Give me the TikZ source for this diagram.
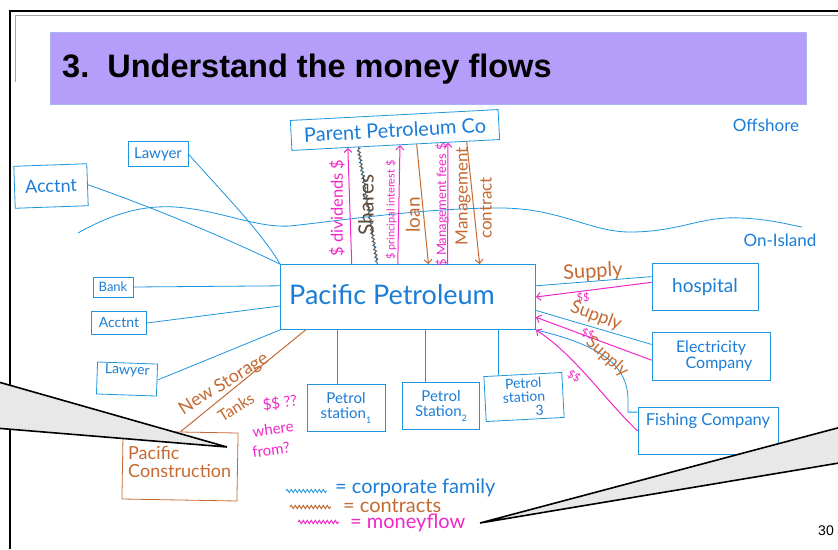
\documentclass[tikz,border=0pt]{standalone}
\usepackage{fontspec}
\setmainfont{Liberation Sans}
\newfontfamily\hand{Lato}
\usetikzlibrary{arrows.meta,decorations.pathmorphing,calc}

\definecolor{hblue}{RGB}{30,150,222}
\definecolor{hink}{RGB}{28,125,215}
\definecolor{hbrown}{RGB}{196,106,50}
\definecolor{hpink}{RGB}{240,40,200}
\definecolor{sharesink}{RGB}{95,75,60}
\definecolor{banner}{RGB}{180,158,250}
\definecolor{bannerline}{RGB}{170,180,245}
\definecolor{calloutfill}{RGB}{232,232,232}

\newcommand{\hs}[1]{\hand\fontsize{#1}{#1}\selectfont}

\begin{document}
\begin{tikzpicture}[x=1pt,y=-1pt,
  box/.style={draw=hblue, line width=0.8pt, rectangle, inner sep=0pt, text=hink, align=center},
  cbox/.style={box, draw=hbrown, text=hbrown},
  family/.style={draw=hblue, line width=0.8pt},
  contract/.style={draw=hbrown, line width=1pt},
  money/.style={draw=hpink, line width=1pt},
  tip/.style={-{Straight Barb[length=4pt,width=8pt]}},
  lbl/.style={inner sep=0pt},
  squig/.style={decorate, decoration={snake, amplitude=1.6pt, segment length=4pt}},
]
\useasboundingbox (0,0) rectangle (838,549);
\fill[white] (0,0) rectangle (838,549);

% slide frame
\draw[black, line width=2pt] (10,549) -- (10,11) -- (838,11);
\draw[black!35, line width=1pt] (15,82) -- (15,15.5) -- (838,15.5);

% title banner
\node[anchor=north west, minimum width=756, minimum height=72, fill=banner, draw=bannerline, line width=0.6pt, inner sep=0pt] (banner) at (50,32) {};
\node[anchor=west, lbl, font=\bfseries\fontsize{32.5}{36}\selectfont] (title) at (62,69) {3.\ \ Understand the money flows};

% offshore / on-island boundary
\draw[family] (78,233) .. controls (110,215) and (140,205) .. (175,207)
  .. controls (220,210) and (255,228) .. (290,226)
  .. controls (330,222) and (420,208) .. (500,208)
  .. controls (560,208) and (590,232) .. (630,232)
  .. controls (680,232) and (700,216) .. (740,218)
  .. controls (770,219) and (790,225) .. (802,227);
\node[lbl, text=hink, font=\hs{17}] (offshore) at (766,125) {Offshore};
\node[lbl, text=hink, font=\hs{17}] (onisland) at (780,240) {On-Island};

% companies and advisers
\node[box, minimum width=208, minimum height=30, rotate=3, font=\hs{20}] (parent) at (395,130) {Parent Petroleum Co};
\node[box, minimum width=255, minimum height=65] (pacpet) at (408,297) {};
\node[lbl, text=hink, font=\hs{27}] (pacpettext) at (392,295) {Pacific Petroleum};

\node[box, minimum width=60, minimum height=25, font=\hs{15}] (lawyerA) at (158,154) {Lawyer};
\node[box, minimum width=73, minimum height=42, rotate=2, font=\hs{18}] (acctA) at (51,186) {Acctnt};
\node[box, minimum width=40, minimum height=20, font=\hs{13}] (bank) at (113,287) {Bank};
\node[box, minimum width=55, minimum height=23, font=\hs{14}] (acctB) at (119,323) {Acctnt};
\node[box, minimum width=60, minimum height=32, rotate=-2, font=\hs{14}] (lawyerB) at (127,379) {Lawyer\\[5pt]};

\node[box, minimum width=106, minimum height=47, font=\hs{19}] (hospital) at (705,287) {hospital};
\node[box, minimum width=118, minimum height=48, font=\hs{16}] (elec) at (711,356) {Electricity\\\hspace*{16pt}Company};
\node[box, minimum width=140, minimum height=47, font=\hs{16.5}] (fish) at (708,431) {Fishing Company\\[6pt]};

\node[box, minimum width=78, minimum height=47, font=\hs{15}] (ps1) at (346,408) {Petrol\\station\raisebox{-5pt}{\hs{9}1}};
\node[box, minimum width=77, minimum height=47, font=\hs{15}] (ps2) at (441,406) {Petrol\\Station\raisebox{-5pt}{\hs{9}2}};
\node[box, minimum width=78, minimum height=45, rotate=3, font=\hs{14}] (ps3) at (524,397) {Petrol\\station\\\hspace*{30pt}3};

\node[cbox, minimum width=115, minimum height=68, rotate=-1] (pacc) at (180,466) {};
\node[lbl, anchor=north west, text=hbrown, align=left, font=\hs{18}] (pacctext) at (128,446) {Pacific\\Construction};

% advisers and stations (corporate family)
\draw[family] (lawyerA.east) .. controls (220,190) and (260,230) .. (pacpet.north west);
\draw[family] (acctA.east) .. controls (160,210) and (230,240) .. (pacpet.north west);
\draw[family] (bank.east) -- (pacpet.175);
\draw[family] (acctB.east) -- (pacpet.184);
\draw[family] (lawyerB.east) -- (pacpet.south west);
\draw[family] (pacpet.south -| ps1.110) -- (ps1.110);
\draw[family] (pacpet.south -| ps2.123) -- (ps2.123);
\draw[family] (pacpet.south -| ps3.137) -- (ps3.137);

% flows between parent and subsidiary
\draw[money, tip] ($(pacpet.north west)!0.28!(pacpet.north east)$) -- ($(parent.south west)!0.27!(parent.south east)$);
\draw[family] ($(parent.south west)!0.32!(parent.south east)$) -- ($(pacpet.north west)!0.38!(pacpet.north east)$);
\draw[sharesink, line width=0.6pt, squig] ($(parent.south west)!0.32!(parent.south east)$) -- ($(pacpet.north west)!0.38!(pacpet.north east)$);
\draw[money, tip] ($(pacpet.north west)!0.46!(pacpet.north east)$) -- ($(parent.south west)!0.52!(parent.south east)$);
\draw[contract, tip] ($(parent.south west)!0.60!(parent.south east)$) -- ($(pacpet.north west)!0.58!(pacpet.north east)$);
\draw[money, tip] ($(pacpet.north west)!0.655!(pacpet.north east)$) -- ($(parent.south west)!0.75!(parent.south east)$);
\draw[contract, tip] ($(parent.south west)!0.84!(parent.south east)$) -- ($(pacpet.north west)!0.78!(pacpet.north east)$);

\node[lbl, text=hpink, rotate=90, font=\hs{16.5}] (ldiv) at (337,208) {\$ dividends \$};
\node[lbl, text=sharesink, rotate=90, font=\hs{21}] (lshares) at (366,205) {Shares};
\node[lbl, text=hpink, rotate=90, font=\hs{11}] (lprin) at (391,210) {\$ principal interest \$};
\node[lbl, text=hbrown, rotate=90, font=\hs{19}] (lloan) at (413,215) {loan};
\node[lbl, text=hpink, rotate=90, font=\hs{13}] (lfees) at (442,205) {\$ Management fees \$};
\node[lbl, text=hbrown, rotate=90, font=\hs{17}] (lmgmt) at (463,196) {Management};
\node[lbl, text=hbrown, rotate=90, font=\hs{17}] (lcontr) at (486,208) {contract};

% suppliers
\draw[family] (pacpet.5) -- (hospital.169);
\draw[money, tip] (hospital.175) -- (pacpet.0);
\node[lbl, text=hbrown, font=\hs{20}, rotate=3] (sup1) at (593,272) {Supply};
\node[lbl, text=hpink, font=\hs{11}] (d1) at (583,298) {\$\$};

\draw[family] (pacpet.354) -- (elec.169);
\draw[money, tip] (elec.184) -- (pacpet.351);
\node[lbl, text=hbrown, font=\hs{18}, rotate=-21] (sup2) at (596,316) {Supply};
\node[lbl, text=hpink, font=\hs{11}, rotate=-20] (d2) at (588,334) {\$\$};

\draw[family] (pacpet.south east) .. controls (600,345) and (628,365) .. (628,400) |- (fish.165);
\draw[money, tip] (fish.west) .. controls (605,400) and (575,355) .. (pacpet.south east);
\node[lbl, text=hbrown, font=\hs{17}, rotate=-42] (sup3) at (607,357) {Supply};
\node[lbl, text=hpink, font=\hs{11}, rotate=-30] (d3) at (574,376) {\$\$};

% new storage tanks contract
\draw[contract] ($(pacpet.south west)!0.1!(pacpet.south east)$) -- (pacc.north);
\node[lbl, text=hbrown, font=\hs{18}, rotate=32] (lstore) at (224,384) {New Storage};
\node[lbl, text=hbrown, font=\hs{16}, rotate=32] (ltanks) at (236,407) {Tanks};
\node[lbl, text=hpink, font=\hs{15}, rotate=8] (lq1) at (280,403) {\$\$ ??};
\node[lbl, text=hpink, font=\hs{15}, rotate=8] (lq2) at (273,429) {where};
\node[lbl, text=hpink, font=\hs{15}, rotate=8] (lq3) at (271,450) {from?};

% legend
\coordinate (k1a) at (286,491); \coordinate (k1b) at (327,491);
\coordinate (k2a) at (290,507); \coordinate (k2b) at (331,507);
\coordinate (k3a) at (298,522); \coordinate (k3b) at (339,522);
\draw[hblue, line width=0.8pt, squig] (k1a) -- (k1b);
\draw[hbrown, line width=1pt, squig] (k2a) -- (k2b);
\draw[hpink, line width=1pt, squig] (k3a) -- (k3b);
\node[lbl, anchor=west, text=hink, font=\hs{20}] (key1) at (335,488) {= corporate family};
\node[lbl, anchor=west, text=hbrown, font=\hs{20}] (key2) at (343,506) {= contracts};
\node[lbl, anchor=west, text=hpink, font=\hs{20}] (key3) at (350,523) {= moneyflow};

% callouts
\fill[calloutfill] (-5,381) -- (227,447) -- (-5,428) -- cycle;
\draw[black, line width=1.6pt] (-5,381) -- (227,447) -- (-5,428);
\fill[calloutfill] (480,523) -- (845,426) -- (845,462) -- cycle;
\draw[black, line width=1.6pt] (845,426) -- (480,523) -- (845,462);

% page number
\node[lbl, anchor=east, font=\fontsize{14}{16}\selectfont] (pageno) at (834,531) {30};
\end{tikzpicture}
\end{document}
